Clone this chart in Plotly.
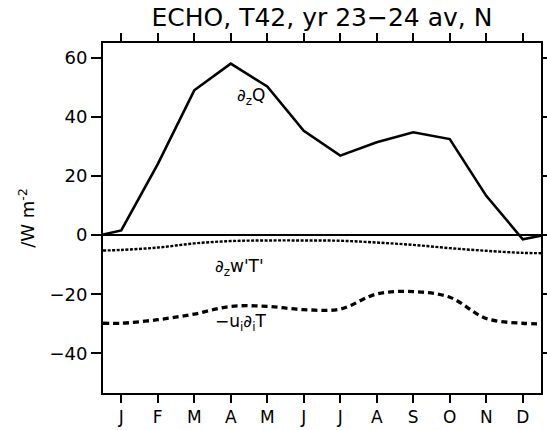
import plotly.graph_objects as go

# month positions (J=0 ... D=11); edges at mid-December of previous/next year
x_pos = [-0.5, 0, 1, 2, 3, 4, 5, 6, 7, 8, 9, 10, 11, 11.5]
month_ticks = [0, 1, 2, 3, 4, 5, 6, 7, 8, 9, 10, 11]
month_labels = ["J", "F", "M", "A", "M", "J", "J", "A", "S", "O", "N", "D"]

# series values (W m^-2)
dzQ = [0.2, 1.6, 24, 49, 58, 50.3, 35.3, 26.9, 31.4, 34.8, 32.5, 13.3, -1.4, -0.2]
dzwT = [-5.2, -5.0, -4.2, -2.8, -2.0, -1.8, -1.8, -1.9, -2.5, -3.3, -4.4, -5.3, -6.0, -6.1]
adv = [-29.8, -29.8, -28.6, -26.7, -24.1, -24.1, -25.2, -25.0, -19.9, -19.1, -21.0, -28.2, -29.8, -30.0]

FONT = "DejaVu Sans"

fig = go.Figure()
fig.add_trace(go.Scatter(x=x_pos, y=dzQ, mode="lines",
                         line=dict(color="black", width=2.6)))
fig.add_trace(go.Scatter(x=x_pos, y=dzwT, mode="lines",
                         line=dict(color="black", width=2.4, dash="3px,1.5px",
                                   shape="spline", smoothing=1)))
fig.add_trace(go.Scatter(x=x_pos, y=adv, mode="lines",
                         line=dict(color="black", width=3.3, dash="6px,4px",
                                   shape="spline", smoothing=1)))

ann_font = dict(family=FONT, size=17, color="black")
fig.add_annotation(x=3.56, y=46.8, text="∂<sub>z</sub>Q", showarrow=False, font=ann_font)
fig.add_annotation(x=3.23, y=-10.9, text="∂<sub>z</sub>w'T'", showarrow=False, font=ann_font)
fig.add_annotation(x=3.26, y=-29.5, text="−u<sub>i</sub>∂<sub>i</sub>T", showarrow=False, font=ann_font)

fig.update_layout(
    width=547, height=430,
    margin=dict(l=103, r=6, t=43, b=37),
    paper_bgcolor="white", plot_bgcolor="white",
    showlegend=False,
    font=dict(family=FONT, size=18, color="black"),
    title=dict(text="ECHO, T42, yr 23−24 av, N", x=0.5, xref="paper",
               y=1 - 17 / 430, yref="container", yanchor="middle",
               font=dict(family=FONT, size=25, color="black")),
)
fig.update_xaxes(range=[-0.5, 11.5], tickmode="array", tickvals=month_ticks,
                 ticktext=month_labels, ticks="outside", ticklen=8, tickwidth=1.5,
                 tickcolor="black", showline=True, linecolor="black", linewidth=2,
                 mirror="ticks", showgrid=False, zeroline=False, automargin=False,
                 ticklabelstandoff=0, tickfont=dict(family=FONT, size=17))
fig.update_yaxes(range=[-53.4, 65], tickmode="array", tickvals=[-40, -20, 0, 20, 40, 60],
                 ticks="outside", ticklen=10, tickwidth=1.5, tickcolor="black",
                 showline=True, linecolor="black", linewidth=2, mirror="ticks",
                 showgrid=False, zeroline=True, zerolinecolor="black", zerolinewidth=2,
                 automargin=False, tickfont=dict(family=FONT, size=18),
                 title=dict(text="/W m<sup>-2</sup>", font=dict(family=FONT, size=18), standoff=10))

fig.write_html("out.html")
